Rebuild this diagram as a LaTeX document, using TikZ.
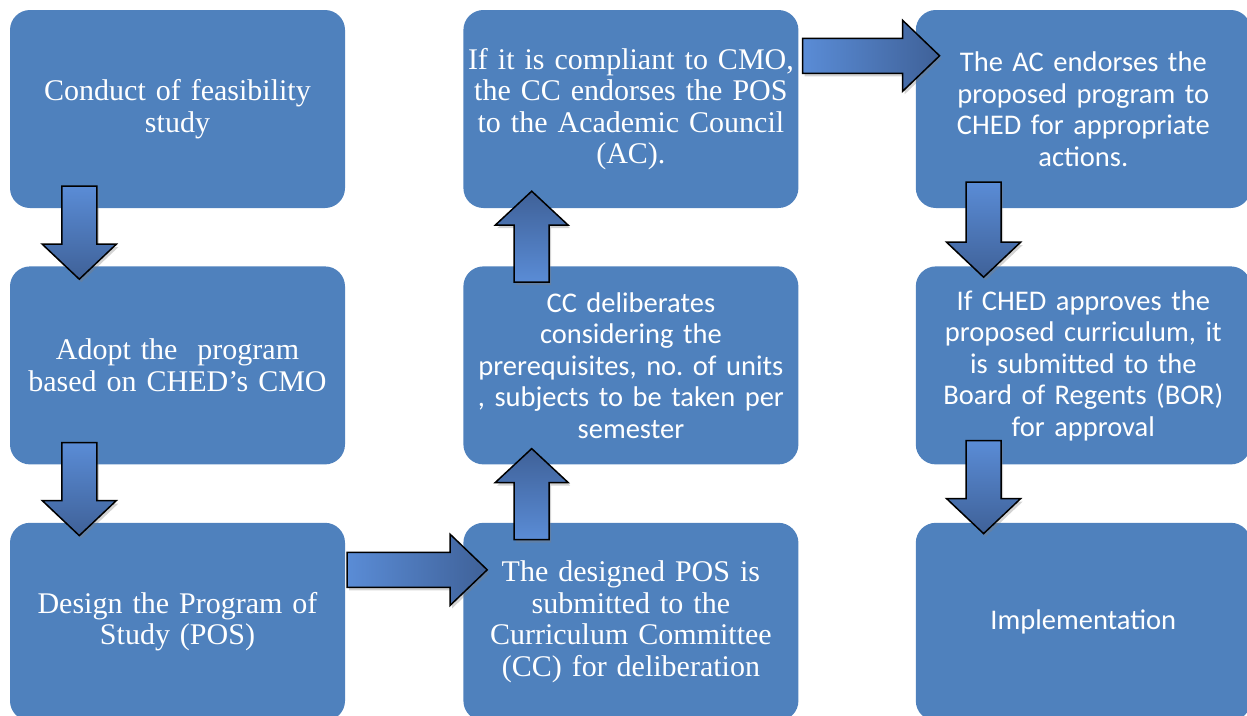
\documentclass[tikz,border=0pt]{standalone}
\usepackage{fontspec}
\setmainfont{Liberation Serif}
\setsansfont{Carlito}
\frenchspacing
\usetikzlibrary{positioning}
\usetikzlibrary{shadows}
\definecolor{boxblue}{HTML}{4F81BD}
\definecolor{arrowlight}{HTML}{5A8CD6}
\definecolor{arrowdark}{HTML}{3F6198}
\tikzstyle{bluebox}=[
      rectangle,
      rounded corners = 20pt,
      fill = boxblue,
      minimum width = 335pt,
      minimum height = 198pt,
      inner sep = 2pt,
      text width = 331pt,
      align = center,
      text = white
      ]
\tikzstyle{serifbox}=[bluebox, font = \fontsize{30}{31.5}\selectfont]
\tikzstyle{sansbox}=[bluebox, font = \sffamily\fontsize{28.5}{31.5}\selectfont]
\tikzstyle{blockarrow}=[
      draw = black,
      line width = 1.5pt,
      drop shadow = {shadow xshift=2pt, shadow yshift=-3pt, opacity=.35}
      ]
\tikzset{
  arrow down/.pic = {\shade[blockarrow, top color=arrowlight, bottom color=arrowdark]
    (-17.5,0) -- (17.5,0) -- (17.5,#1-35) -- (37,#1-35) -- (0,#1)
    -- (-37,#1-35) -- (-17.5,#1-35) -- cycle;},
  arrow up/.pic = {\shade[blockarrow, bottom color=arrowlight, top color=arrowdark]
    (-17.5,0) -- (-17.5,34-#1) -- (-36.5,34-#1) -- (0,-#1)
    -- (36.5,34-#1) -- (17.5,34-#1) -- (17.5,0) -- cycle;},
  arrow right/.pic = {\shade[blockarrow, left color=arrowlight, right color=arrowdark]
    (0,-17.5) -- (#1-37,-17.5) -- (#1-37,-35.5) -- (#1,0)
    -- (#1-37,35.5) -- (#1-37,17.5) -- (0,17.5) -- cycle;}
}

\begin{document}
\begin{tikzpicture}[x=1pt, y=-1pt]
\useasboundingbox (0,0) rectangle (1247,715);
\clip (0,0) rectangle (1247,715);

\node [serifbox] (feas) at (177.5,109) {Conduct of feasibility\\study};
\node [serifbox, below=58pt of feas] (adopt) {Adopt the\ \ program\\based on CHED’s CMO};
\node [serifbox, below=58pt of adopt] (design) {Design the Program of\\Study (POS)};
\node [serifbox, right=118pt of design] (submit)
{The designed POS is\\submitted to the\\Curriculum Committee\\(CC) for deliberation};
\node [sansbox, above=58pt of submit] (delib)
{CC deliberates\\considering the\\prerequisites, no. of units\\, subjects to be taken per\\semester};
\node [serifbox, above=58pt of delib] (comply)
{If it is compliant to CMO,\\the CC endorses the POS\\to the Academic Council\\(AC).};
\node [sansbox, right=117pt of comply] (endorse)
{The AC endorses the\\proposed program to\\CHED for appropriate\\actions.};
\node [sansbox, below=58pt of endorse] (approve)
{If CHED approves the\\proposed curriculum, it\\is submitted to the\\Board of Regents (BOR)\\for approval};
\node [sansbox, below=58pt of approve] (implement) {Implementation};

\pic at ([xshift=69.5pt, yshift=22pt]feas.south west) {arrow down=93};
\pic at ([xshift=69.5pt, yshift=22pt]adopt.south west) {arrow down=93};
\pic at ([xshift=2pt, yshift=52pt]design.east) {arrow right=140};
\pic at ([xshift=68.5pt, yshift=-17pt]submit.north west) {arrow up=91};
\pic at ([xshift=68.5pt, yshift=-16pt]delib.north west) {arrow up=91};
\pic at ([xshift=4pt, yshift=-46pt]comply.north east) {arrow right=137};
\pic at ([xshift=68pt, yshift=26pt]endorse.south west) {arrow down=95};
\pic at ([xshift=68pt, yshift=24pt]approve.south west) {arrow down=93};
\end{tikzpicture}
\end{document}
